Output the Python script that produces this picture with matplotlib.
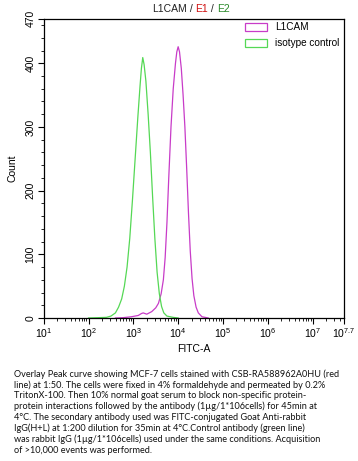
import numpy as np
import matplotlib
matplotlib.use("Agg")
import matplotlib.pyplot as plt
from matplotlib.patches import Patch
from matplotlib.ticker import FixedLocator, NullFormatter

plt.rcParams['font.family'] = ['Liberation Sans', 'DejaVu Sans']
plt.rcParams['mathtext.fontset'] = 'custom'
plt.rcParams['mathtext.rm'] = 'Liberation Sans'
plt.rcParams['mathtext.it'] = 'Liberation Sans'
plt.rcParams['mathtext.bf'] = 'Liberation Sans'

# ---- data (x as log10 of FITC-A, y as count) ----
green_exp = [2.0, 2.2, 2.4, 2.50, 2.60, 2.67, 2.74, 2.80, 2.86, 2.92, 2.98, 3.04,
             3.10, 3.15, 3.18, 3.21, 3.24, 3.28, 3.33, 3.38, 3.43, 3.48, 3.53,
             3.58, 3.63, 3.68, 3.75, 3.89, 4.0]
green_cnt = [0, 0.5, 1, 3, 8, 17, 30, 50, 80, 125, 185, 250,
             315, 365, 392, 409, 398, 372, 320, 260, 190, 125, 72,
             38, 18, 8, 3, 1, 0]

mag_exp = [2.6, 2.77, 2.96, 3.11, 3.18, 3.22, 3.26, 3.30, 3.41, 3.50, 3.56, 3.62,
           3.67, 3.71, 3.75, 3.79, 3.84, 3.89, 3.94, 3.97, 4.00, 4.03, 4.07,
           4.11, 4.15, 4.19, 4.23, 4.27, 4.31, 4.35, 4.40, 4.45, 4.53, 4.67]
mag_cnt = [0, 0.5, 2, 4, 7, 8, 7, 6, 10, 16, 23, 38,
           60, 95, 150, 220, 300, 360, 400, 418, 426, 418, 392,
           350, 300, 235, 165, 105, 62, 35, 17, 8, 2, 0]

x_tick_exps = [1, 2, 3, 4, 5, 6, 7, 7.7]
x_tick_labels = ['1', '2', '3', '4', '5', '6', '7', '7.7']
y_ticks = [0, 100, 200, 300, 400, 470]
series_names = ['L1CAM', 'isotype control']

caption_lines = [
    "Overlay Peak curve showing MCF-7 cells stained with CSB-RA588962A0HU (red",
    "line) at 1:50. The cells were fixed in 4% formaldehyde and permeated by 0.2%",
    "TritonX-100. Then 10% normal goat serum to block non-specific protein-",
    "protein interactions followed by the antibody (1µg/1*106cells) for 45min at",
    "4°C. The secondary antibody used was FITC-conjugated Goat Anti-rabbit",
    "IgG(H+L) at 1:200 dilution for 35min at 4°C.Control antibody (green line)",
    "was rabbit IgG (1µg/1*106cells) used under the same conditions. Acquisition",
    "of >10,000 events was performed.",
]

MAG = '#c83cc8'
GRN = '#55d855'

W, H = 358, 461
fig = plt.figure(figsize=(W / 100, H / 100), dpi=100)
ax = fig.add_axes([43.7 / W, 1 - 318 / H, (344 - 43.7) / W, (318 - 18.7) / H])

ax.plot(10 ** np.array(mag_exp), mag_cnt, color=MAG, lw=0.9)
ax.plot(10 ** np.array(green_exp), green_cnt, color=GRN, lw=0.9)

ax.set_xscale('log')
ax.set_xlim(10 ** 1, 10 ** 7.7)
ax.set_ylim(0, 470)

ax.set_xticks([10 ** e for e in x_tick_exps])
ax.set_xticklabels([r'$\mathregular{10^{%s}}$' % l for l in x_tick_labels])
minors = []
for d in range(1, 8):
    for m in range(2, 10):
        v = m * 10 ** d
        if v < 10 ** 7.7:
            minors.append(v)
ax.xaxis.set_minor_locator(FixedLocator(minors))
ax.xaxis.set_minor_formatter(NullFormatter())

ax.set_yticks(y_ticks)
ax.set_yticklabels([str(v) for v in y_ticks], rotation=90, va='center')
ax.yaxis.set_minor_locator(FixedLocator([v for v in range(20, 470, 20) if v % 100 != 0]))

ax.tick_params(axis='both', which='major', direction='out', length=4, width=0.8,
               labelsize=7.5, colors='black', top=False, right=False)
ax.tick_params(axis='both', which='minor', direction='out', length=2, width=0.6,
               top=False, right=False)
ax.tick_params(axis='y', which='major', pad=2)
ax.tick_params(axis='x', which='major', pad=2)
for s in ax.spines.values():
    s.set_linewidth(0.9)
    s.set_color('black')

ax.set_xlabel('FITC-A', fontsize=7.5, labelpad=3)
ax.set_ylabel('Count', fontsize=7.5, labelpad=6)

handles = [Patch(facecolor='white', edgecolor=MAG, lw=0.9),
           Patch(facecolor='white', edgecolor=GRN, lw=0.9)]
leg = ax.legend(handles, series_names, loc='upper right', frameon=False,
                fontsize=7.2, handlelength=2.2, handleheight=0.8,
                handletextpad=0.8, labelspacing=0.6,
                bbox_to_anchor=(1.005, 1.01), borderaxespad=0.25)

# Title with coloured pieces
fig.canvas.draw()
renderer = fig.canvas.get_renderer()
pieces = [('L1CAM', '#222222'), (' / ', '#222222'), ('E1', '#d01010'),
          (' / ', '#222222'), ('E2', '#2a8a2a')]
tmp = [fig.text(0, 0, t, fontsize=7.5) for t, _ in pieces]
widths = [t.get_window_extent(renderer).width for t in tmp]
for t in tmp:
    t.remove()
total = sum(widths)
x0 = 191 - total / 2
for (t, c), w in zip(pieces, widths):
    fig.text(x0 / W, 1 - 8.5 / H, t, color=c, fontsize=7.5, va='center', ha='left')
    x0 += w

# Caption
for i, line in enumerate(caption_lines):
    fig.text(14 / W, 1 - (374 + i * 10.9) / H, line, fontsize=6.55,
             family=['Lato', 'DejaVu Sans'], va='center', ha='left', color='#111111')

fig.savefig('out.png', dpi=100)
